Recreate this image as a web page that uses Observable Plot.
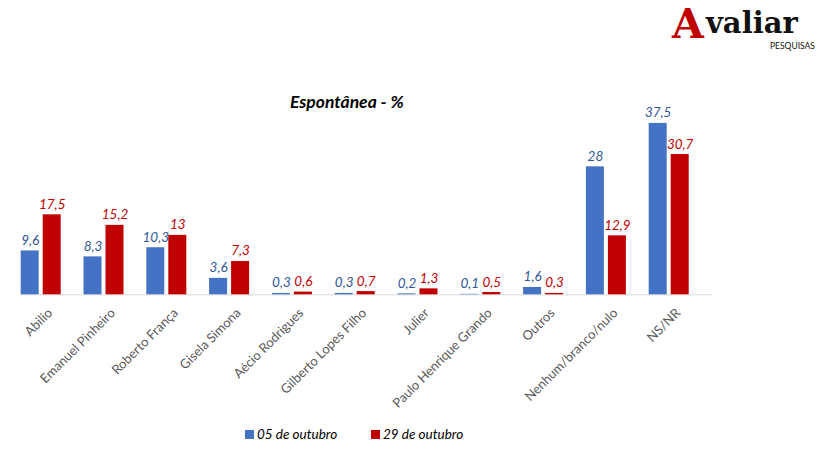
<!DOCTYPE html>
<html>
<head>
<meta charset="utf-8">
<script src="https://cdn.jsdelivr.net/npm/d3@7"></script>
<script src="https://cdn.jsdelivr.net/npm/@observablehq/plot@0.6"></script>
<style>
  html, body { margin: 0; padding: 0; background: #fff; }
  #wrap { position: relative; width: 820px; height: 474px; overflow: hidden; background: #fff; font-family: Lato, "Open Sans", sans-serif; }
  #chart { position: absolute; left: 0; top: 0; }
  .abs { position: absolute; white-space: nowrap; line-height: 1; }
  #title { left: 290px; top: 93px; font-size: 17.5px; font-weight: 700; font-style: italic; color: #000; }
  #logoA { left: 672px; top: 0px; font-family: "DejaVu Serif", serif; font-weight: 700; font-size: 41px; line-height: normal; color: #C00000; }
  #logoRest { left: 706px; top: 9px; font-family: "DejaVu Serif", serif; font-weight: 700; font-size: 29px; color: #111; }
  #logoSub { left: 770px; top: 42px; font-size: 8.5px; color: #111; }
  .leg { top: 426px; font-size: 13.5px; font-style: italic; color: #000; display: flex; align-items: center; line-height: 1.2; }
  .sw { display: inline-block; width: 9px; height: 9px; margin-right: 3px; }
</style>
</head>
<body>
<div id="wrap">
  <div id="chart"></div>
</div>
<script>
const categories = ["Abilio", "Emanuel Pinheiro", "Roberto França", "Gisela Simona", "Aécio Rodrigues", "Gilberto Lopes Filho", "Julier", "Paulo Henrique Grando", "Outros", "Nenhum/branco/nulo", "NS/NR"];
const seriesNames = ["05 de outubro", "29 de outubro"];
const oct05 = [9.6, 8.3, 10.3, 3.6, 0.3, 0.3, 0.2, 0.1, 1.6, 28, 37.5];
const oct29 = [17.5, 15.2, 13, 7.3, 0.6, 0.7, 1.3, 0.5, 0.3, 12.9, 30.7];
const seriesColors = ["#4472C4", "#C00000"];
const labelColors = ["#2F5597", "#C00000"];
const titleText = "Espontânea - %";

const d05 = categories.map((c, i) => ({cat: c, v: oct05[i]}));
const d29 = categories.map((c, i) => ({cat: c, v: oct29[i]}));
const fmt = v => String(v).replace(".", ",");

const plot = Plot.plot({
  width: 820,
  height: 474,
  marginLeft: 20,
  marginRight: 108,
  marginTop: 0,
  marginBottom: 0,
  style: {background: "transparent", fontFamily: "Lato, 'Open Sans', sans-serif"},
  x: {domain: categories, range: [20.7, 688.7], paddingInner: 0.363, paddingOuter: 0, round: false, axis: null},
  y: {domain: [0, 40], range: [294.3, 294.3 - 40 * 4.57], axis: null},
  marks: [
    Plot.ruleY([0], {stroke: "#D9D9D9", strokeWidth: 1}),
    Plot.barY(d05, {x: "cat", y: "v", fill: seriesColors[0], insetRight: 22}),
    Plot.barY(d29, {x: "cat", y: "v", fill: seriesColors[1], insetLeft: 22}),
    Plot.text(d05, {x: "cat", y: "v", text: d => fmt(d.v), dx: -11, dy: -6, lineAnchor: "bottom", fill: labelColors[0], fontSize: 13.5, fontStyle: "italic"}),
    Plot.text(d29, {x: "cat", y: "v", text: d => fmt(d.v), dx: 11, dy: -6, lineAnchor: "bottom", fill: labelColors[1], fontSize: 13.5, fontStyle: "italic"}),
    Plot.text(categories, {x: d => d, y: () => 0, text: d => d, rotate: -45, textAnchor: "end", lineAnchor: "middle", dx: 9, dy: 16, fill: "#595959", fontSize: 13})
  ]
});
document.getElementById("chart").appendChild(plot);

const wrap = document.getElementById("wrap");
function addDiv(id, cls, html) {
  const d = document.createElement("div");
  if (id) d.id = id;
  d.className = cls;
  d.innerHTML = html;
  wrap.appendChild(d);
  return d;
}
addDiv("title", "abs", titleText);
addDiv("logoA", "abs", "A");
addDiv("logoRest", "abs", "valiar");
addDiv("logoSub", "abs", "PESQUISAS");
const legX = [245, 371];
seriesNames.forEach((n, i) => {
  const d = addDiv(null, "abs leg", `<span class="sw" style="background:${seriesColors[i]}"></span>${n}`);
  d.style.left = legX[i] + "px";
});
</script>
</body>
</html>
